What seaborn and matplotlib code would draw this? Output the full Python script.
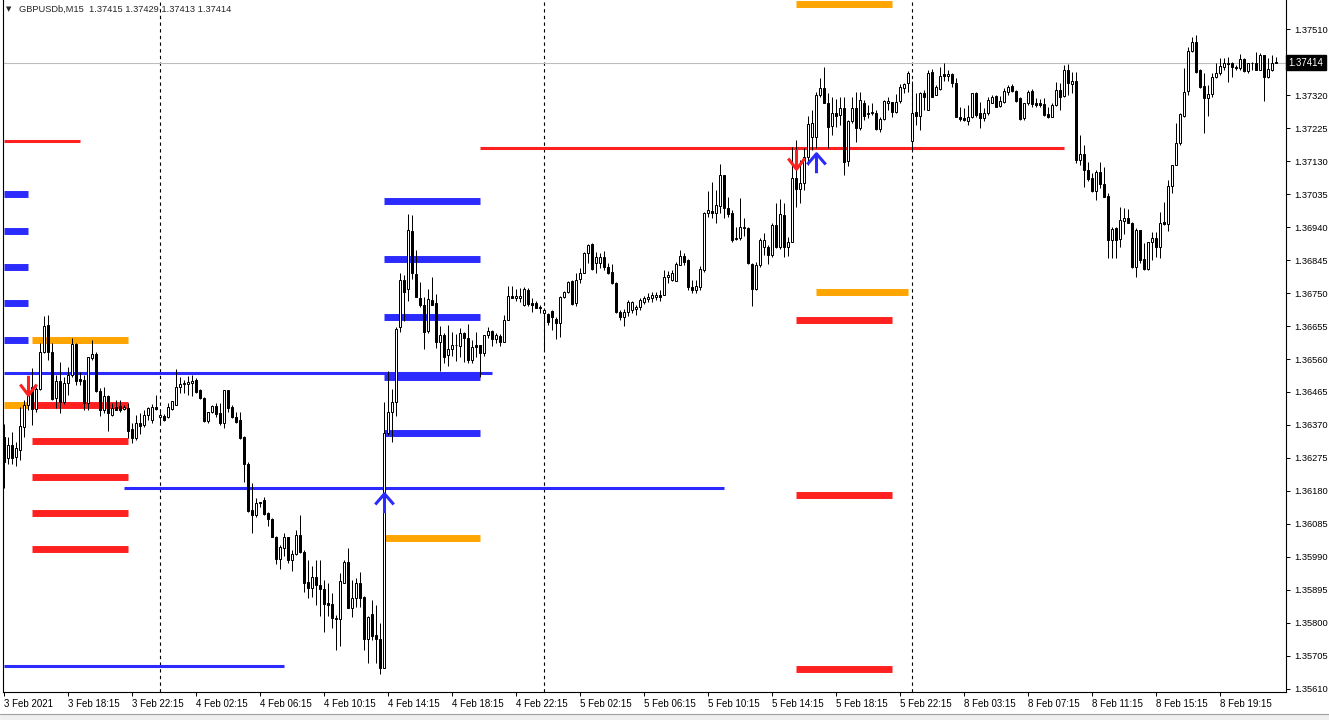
"""GBPUSDb M15 - candles com niveis do indicador (recriacao do grafico do MT4)"""
import numpy as np
import pandas as pd
import matplotlib
matplotlib.use("Agg")
import matplotlib.pyplot as plt
from matplotlib.path import Path
from matplotlib.patches import Rectangle
import seaborn as sns

# precos em pontos (0.00001) acima da base
BASE = 1.356

opens_pts = [
    735, 675, 712, 678, 698, 764, 827, 879, 816, 874,
    980, 1058, 980, 848, 897, 836, 891, 914, 1003, 902,
    900, 833, 963, 974, 868, 813, 853, 799, 822, 825,
    816, 819, 758, 732, 776, 770, 799, 784, 822, 793,
    796, 793, 816, 827, 879, 888, 888, 891, 900, 871,
    848, 781, 807, 825, 804, 776, 871, 822, 793, 784,
    735, 657, 525, 510, 545, 554, 516, 499, 447, 383,
    415, 447, 381, 398, 453, 404, 317, 300, 332, 308,
    297, 257, 254, 213, 210, 314, 375, 242, 271, 314,
    274, 153, 225, 164, 153, 69, 747, 807, 836, 1052,
    1188, 1162, 1329, 1205, 1136, 1116, 1041, 1130, 1121, 1009,
    1029, 971, 989, 1000, 997, 1035, 1021, 957, 1000, 1000,
    977, 1029, 1041, 1018, 1026, 1009, 1072, 1142, 1136, 1136,
    1116, 1159, 1121, 1121, 1110, 1093, 1090, 1098, 1075, 1064,
    1139, 1153, 1185, 1121, 1191, 1208, 1266, 1292, 1237, 1237,
    1254, 1225, 1211, 1179, 1096, 1081, 1096, 1101, 1104, 1110,
    1124, 1133, 1136, 1139, 1145, 1145, 1196, 1188, 1185, 1231,
    1257, 1245, 1168, 1159, 1168, 1217, 1381, 1387, 1381, 1401,
    1490, 1395, 1381, 1306, 1309, 1338, 1338, 1234, 1162, 1231,
    1283, 1283, 1260, 1346, 1283, 1375, 1283, 1297, 1482, 1450,
    1467, 1542, 1600, 1600, 1721, 1741, 1698, 1632, 1669, 1663,
    1684, 1531, 1646, 1684, 1626, 1698, 1666, 1669, 1669, 1623,
    1652, 1698, 1701, 1672, 1704, 1741, 1756, 1589, 1672, 1661,
    1727, 1678, 1787, 1721, 1738, 1782, 1776, 1782, 1756, 1658,
    1655, 1646, 1658, 1727, 1669, 1655, 1669, 1698, 1718, 1689,
    1701, 1730, 1747, 1733, 1712, 1655, 1698, 1733, 1698, 1698,
    1695, 1666, 1658, 1692, 1736, 1718, 1793, 1753, 1762, 1534,
    1551, 1505, 1482, 1444, 1499, 1465, 1430, 1303, 1338, 1306,
    1358, 1367, 1352, 1225, 1332, 1248, 1219, 1297, 1309, 1283,
    1355, 1349, 1459, 1519, 1583, 1661, 1733, 1848, 1874, 1793,
    1747, 1712, 1724, 1773, 1785, 1802, 1813, 1813, 1802, 1799,
    1825, 1790, 1814, 1813, 1793, 1836, 1773, 1793, 1815,
]

highs_pts = [
    773, 735, 750, 721, 822, 842, 905, 934, 879, 1006,
    1084, 1087, 1006, 914, 951, 908, 937, 1021, 1006, 923,
    914, 966, 1015, 980, 876, 879, 856, 833, 842, 842,
    827, 833, 776, 799, 804, 813, 822, 830, 856, 813,
    801, 833, 839, 931, 908, 900, 911, 914, 905, 874,
    850, 807, 827, 833, 833, 871, 871, 827, 807, 807,
    738, 663, 603, 559, 548, 562, 519, 502, 450, 424,
    458, 447, 409, 467, 510, 409, 381, 363, 381, 381,
    323, 314, 285, 222, 343, 381, 415, 323, 329, 346,
    277, 219, 265, 251, 199, 836, 925, 874, 1052, 1208,
    1202, 1378, 1375, 1274, 1182, 1139, 1162, 1196, 1147, 1055,
    1035, 1058, 1038, 1032, 1049, 1038, 1061, 1015, 1038, 1000,
    1029, 1052, 1044, 1035, 1032, 1087, 1170, 1170, 1162, 1165,
    1168, 1165, 1136, 1127, 1116, 1107, 1093, 1101, 1081, 1142,
    1156, 1185, 1188, 1208, 1222, 1268, 1292, 1294, 1268, 1266,
    1271, 1237, 1234, 1182, 1101, 1104, 1130, 1127, 1116, 1136,
    1142, 1150, 1153, 1153, 1159, 1217, 1214, 1217, 1240, 1274,
    1266, 1248, 1188, 1188, 1228, 1384, 1444, 1470, 1447, 1522,
    1490, 1427, 1390, 1341, 1424, 1367, 1341, 1237, 1240, 1309,
    1323, 1289, 1352, 1410, 1421, 1410, 1312, 1571, 1591, 1534,
    1568, 1661, 1678, 1730, 1770, 1802, 1727, 1715, 1710, 1715,
    1715, 1649, 1715, 1730, 1730, 1707, 1692, 1698, 1678, 1658,
    1707, 1715, 1701, 1724, 1753, 1756, 1790, 1762, 1727, 1730,
    1736, 1793, 1796, 1750, 1802, 1813, 1793, 1785, 1770, 1687,
    1684, 1692, 1727, 1730, 1701, 1684, 1715, 1721, 1721, 1718,
    1741, 1750, 1753, 1736, 1715, 1698, 1736, 1738, 1712, 1710,
    1712, 1687, 1698, 1759, 1756, 1808, 1810, 1787, 1787, 1606,
    1577, 1528, 1496, 1505, 1528, 1514, 1439, 1341, 1341, 1398,
    1395, 1392, 1355, 1338, 1332, 1294, 1297, 1326, 1326, 1384,
    1413, 1476, 1519, 1640, 1669, 1799, 1860, 1888, 1894, 1796,
    1785, 1750, 1785, 1813, 1828, 1828, 1831, 1816, 1808, 1839,
    1828, 1813, 1816, 1845, 1842, 1836, 1828, 1836, 1831,
]

lows_pts = [
    588, 657, 657, 652, 669, 735, 813, 770, 807, 871,
    977, 957, 842, 819, 804, 830, 856, 908, 885, 885,
    813, 813, 957, 865, 796, 804, 752, 796, 813, 807,
    813, 732, 718, 727, 744, 764, 784, 776, 813, 776,
    781, 790, 813, 827, 862, 862, 856, 853, 862, 845,
    778, 776, 804, 793, 770, 761, 807, 790, 776, 729,
    605, 519, 458, 505, 533, 510, 479, 447, 369, 355,
    392, 372, 349, 395, 401, 288, 271, 274, 251, 219,
    173, 219, 185, 121, 133, 314, 242, 216, 245, 245,
    121, 84, 150, 84, 52, 69, 741, 721, 796, 1038,
    1070, 1127, 1191, 1139, 1110, 989, 1035, 1116, 992, 925,
    948, 940, 969, 954, 966, 951, 948, 948, 966, 908,
    969, 1021, 997, 1006, 997, 1009, 1072, 1136, 1127, 1124,
    1113, 1113, 1096, 1107, 1093, 986, 1058, 1044, 1018, 1023,
    1136, 1150, 1116, 1113, 1179, 1208, 1237, 1217, 1208, 1222,
    1217, 1205, 1176, 1093, 1072, 1055, 1084, 1093, 1087, 1101,
    1119, 1124, 1124, 1130, 1127, 1145, 1179, 1185, 1185, 1231,
    1231, 1159, 1150, 1150, 1159, 1211, 1369, 1367, 1352, 1381,
    1367, 1369, 1297, 1303, 1303, 1315, 1234, 1113, 1159, 1225,
    1260, 1234, 1254, 1280, 1277, 1254, 1257, 1297, 1398, 1410,
    1447, 1519, 1563, 1568, 1715, 1698, 1568, 1606, 1629, 1635,
    1490, 1516, 1640, 1586, 1620, 1649, 1655, 1663, 1620, 1614,
    1649, 1678, 1658, 1669, 1698, 1727, 1730, 1563, 1635, 1620,
    1678, 1678, 1715, 1721, 1736, 1762, 1762, 1744, 1658, 1646,
    1646, 1635, 1655, 1658, 1626, 1646, 1663, 1698, 1687, 1687,
    1698, 1721, 1730, 1701, 1649, 1649, 1692, 1687, 1687, 1687,
    1661, 1655, 1658, 1689, 1678, 1715, 1721, 1727, 1525, 1519,
    1456, 1473, 1442, 1418, 1453, 1427, 1251, 1251, 1251, 1283,
    1320, 1352, 1222, 1196, 1237, 1217, 1217, 1245, 1254, 1251,
    1346, 1329, 1439, 1519, 1577, 1658, 1721, 1845, 1785, 1741,
    1612, 1661, 1715, 1770, 1779, 1793, 1759, 1773, 1793, 1793,
    1787, 1785, 1793, 1793, 1793, 1704, 1770, 1790, 1813,
]

closes_pts = [
    663, 712, 675, 703, 767, 827, 882, 816, 874, 980,
    1055, 980, 845, 897, 836, 891, 914, 1003, 897, 897,
    833, 966, 974, 868, 813, 853, 804, 819, 813, 813,
    822, 752, 732, 776, 767, 799, 819, 822, 816, 799,
    784, 822, 839, 879, 888, 891, 894, 897, 865, 848,
    781, 807, 825, 801, 776, 871, 819, 793, 778, 732,
    657, 522, 510, 545, 548, 513, 499, 447, 383, 418,
    447, 381, 398, 453, 404, 314, 300, 332, 308, 297,
    254, 251, 213, 210, 320, 375, 242, 271, 314, 271,
    153, 216, 161, 153, 69, 747, 807, 836, 1047, 1188,
    1153, 1332, 1208, 1139, 1116, 1038, 1133, 1116, 1009, 1029,
    966, 989, 1000, 1000, 1035, 1021, 957, 995, 995, 977,
    1029, 1041, 1018, 1029, 1009, 1072, 1142, 1136, 1142, 1142,
    1162, 1119, 1116, 1107, 1107, 1101, 1067, 1081, 1064, 1139,
    1153, 1182, 1119, 1188, 1208, 1266, 1289, 1219, 1254, 1254,
    1225, 1208, 1179, 1096, 1081, 1096, 1124, 1124, 1110, 1130,
    1136, 1139, 1145, 1145, 1139, 1196, 1202, 1208, 1234, 1257,
    1240, 1168, 1159, 1170, 1219, 1381, 1390, 1381, 1404, 1490,
    1395, 1378, 1303, 1309, 1341, 1341, 1237, 1162, 1231, 1303,
    1303, 1260, 1346, 1283, 1378, 1283, 1297, 1482, 1450, 1467,
    1542, 1637, 1640, 1721, 1741, 1698, 1629, 1669, 1661, 1684,
    1528, 1646, 1684, 1626, 1707, 1661, 1669, 1672, 1623, 1652,
    1704, 1704, 1672, 1701, 1744, 1753, 1785, 1669, 1661, 1727,
    1715, 1785, 1715, 1744, 1776, 1776, 1782, 1756, 1658, 1652,
    1649, 1658, 1727, 1663, 1655, 1669, 1707, 1715, 1687, 1704,
    1733, 1744, 1733, 1704, 1652, 1698, 1730, 1695, 1692, 1692,
    1663, 1658, 1692, 1736, 1715, 1793, 1756, 1762, 1534, 1551,
    1505, 1479, 1444, 1499, 1465, 1427, 1303, 1335, 1303, 1361,
    1367, 1352, 1225, 1332, 1245, 1219, 1297, 1309, 1283, 1352,
    1349, 1459, 1519, 1583, 1666, 1730, 1848, 1874, 1787, 1744,
    1712, 1724, 1773, 1785, 1805, 1813, 1810, 1802, 1799, 1825,
    1790, 1813, 1813, 1793, 1836, 1773, 1796, 1813, 1814,
]

# niveis do indicador: (preco em pontos, barra inicial, barra final)
red_thin_levels = [(1589, 0, 19), (1568, 119, 265)]
blue_thin_levels = [(920, 0, 122), (588, 30, 180), (75, 0, 70)]
blue_thick_levels = [(1436, 0, 6), (1329, 0, 6), (1225, 0, 6), (1121, 0, 6), (1015, 0, 6),
                     (1416, 95, 119), (1248, 95, 119), (1081, 95, 119), (908, 95, 119), (747, 95, 119)]
red_thick_levels = [(827, 7, 31), (724, 7, 31), (620, 7, 31), (516, 7, 31), (412, 7, 31),
                    (1072, 198, 222), (568, 198, 222), (66, 198, 222)]
orange_levels = [(827, 0, 6), (1015, 7, 31), (444, 95, 119), (1984, 198, 222), (1153, 203, 226)]

# setas: (barra, preco em pontos)
up_arrows = [(95, 545), (203, 1525)]
down_arrows = [(6, 885), (198, 1537)]

separator_bars = [39, 135, 227]
x_labels = ["3 Feb 2021", "3 Feb 18:15", "3 Feb 22:15", "4 Feb 02:15", "4 Feb 06:15",
            "4 Feb 10:15", "4 Feb 14:15", "4 Feb 18:15", "4 Feb 22:15", "5 Feb 02:15",
            "5 Feb 06:15", "5 Feb 10:15", "5 Feb 14:15", "5 Feb 18:15", "5 Feb 22:15",
            "8 Feb 03:15", "8 Feb 07:15", "8 Feb 11:15", "8 Feb 15:15", "8 Feb 19:15"]
y_ticks = [1.37510, 1.37320, 1.37225, 1.37130, 1.37035, 1.36940, 1.36845, 1.36750,
           1.36655, 1.36560, 1.36465, 1.36370, 1.36275, 1.36180, 1.36085, 1.35990,
           1.35895, 1.35800, 1.35705, 1.35610]
current_price = 1.37414
title_text = "GBPUSDb,M15  1.37415 1.37429 1.37413 1.37414"

BLUE = "#2B2BFF"
RED = "#FF2020"
ORANGE = "#FFA500"


def to_price(pts):
    return BASE + np.asarray(pts) / 1e5


sns.set_theme(style="white")
plt.rcParams['font.family'] = ['Liberation Sans', 'DejaVu Sans']

df = pd.DataFrame({'open': to_price(opens_pts), 'high': to_price(highs_pts),
                   'low': to_price(lows_pts), 'close': to_price(closes_pts)})
assert len(opens_pts) == len(highs_pts) == len(lows_pts) == len(closes_pts)
bull = df['close'] >= df['open']

W, H = 1329, 720
fig = plt.figure(figsize=(W / 100, H / 100), dpi=100)
fig.patch.set_facecolor('white')
ax = fig.add_axes([3 / W, 28 / H, 1283 / W, 692 / H])
ax.set_facecolor('white')

# separadores de dia e preco atual
for b in separator_bars:
    ax.axvline(b, color='black', lw=0.8, ls=(0, (3, 3)), zorder=1)
ax.axhline(current_price, color='#BDBDBD', lw=0.8, zorder=1)

# niveis
def draw_levels(levels, color, lw):
    for p, b0, b1 in levels:
        pr = to_price(p)
        ax.plot([b0, b1], [pr, pr], color=color, lw=lw, solid_capstyle='butt', zorder=2)

draw_levels(red_thin_levels, RED, 2.2)
draw_levels(blue_thin_levels, BLUE, 2.2)
draw_levels(blue_thick_levels, BLUE, 5)
draw_levels(red_thick_levels, RED, 5)
draw_levels(orange_levels, ORANGE, 5)

# candles
x = df.index.values
ax.vlines(x, df['low'], df['high'], color='black', lw=0.72, zorder=3)
ax.bar(x[bull], (df['close'] - df['open'])[bull], bottom=df['open'][bull], width=0.5,
       color='white', edgecolor='black', linewidth=0.72, zorder=4)
ax.bar(x[~bull], (df['open'] - df['close'])[~bull], bottom=df['close'][~bull], width=0.5,
       color='black', edgecolor='black', linewidth=0.72, zorder=4)

# setas
up_marker = Path([(0, -1), (0, 1), (-0.95, -0.1), (0, 1), (0.95, -0.1)],
                 [Path.MOVETO, Path.LINETO, Path.MOVETO, Path.LINETO, Path.LINETO])
down_marker = Path([(0, 1), (0, -1), (-0.85, 0.1), (0, -1), (0.85, 0.1)],
                   [Path.MOVETO, Path.LINETO, Path.MOVETO, Path.LINETO, Path.LINETO])
for b, p in up_arrows:
    ax.plot([b], [to_price(p)], marker=up_marker, ms=14, mfc='none', mec=BLUE, mew=2.2,
            ls='none', zorder=6)
for b, p in down_arrows:
    ax.plot([b], [to_price(p)], marker=down_marker, ms=14, mfc='none', mec=RED, mew=2.2,
            ls='none', zorder=6)

ax.set_xlim(-0.25, 320.5)
ax.set_ylim(BASE, BASE + 1995 / 1e5)

ax.set_xticks(np.arange(len(x_labels)) * 16)
ax.set_xticklabels(x_labels, ha='left', fontsize=7)
ax.yaxis.tick_right()
ax.set_yticks(y_ticks)
ax.set_yticklabels([f"{v:.5f}" for v in y_ticks], fontsize=6.7)
ax.tick_params(axis='x', direction='out', length=3, width=0.7, pad=2, colors='black', bottom=True)
ax.tick_params(axis='y', direction='out', length=3, width=0.7, pad=3, colors='black', right=True, left=False)
for side in ['left', 'bottom', 'right']:
    ax.spines[side].set_visible(True)
    ax.spines[side].set_color('black')
    ax.spines[side].set_linewidth(0.8)
ax.spines['top'].set_visible(False)
ax.grid(False)

# rotulo do preco atual
ax.annotate(f"{current_price:.5f}", xy=(1, current_price), xycoords=('axes fraction', 'data'),
            xytext=(2, 0), textcoords='offset points', ha='left', va='center', color='white',
            fontsize=6.9, bbox=dict(boxstyle='square,pad=0.25', fc='black', ec='black'),
            annotation_clip=False)

# titulo
fig.text(6 / W, 1 - 9 / H, "\u25BC", fontsize=5, va='center', family='DejaVu Sans')
fig.text(19 / W, 1 - 9 / H, title_text, fontsize=6.7, va='center')

# barra de abas embaixo
fig.patches.append(Rectangle((0, 0), 1, 6 / H, transform=fig.transFigure,
                             facecolor='#EFEFEF', edgecolor='none'))
fig.lines.append(plt.Line2D([0, 1], [6.5 / H, 6.5 / H], transform=fig.transFigure,
                            color='#A0A0A0', lw=0.8))

fig.savefig('out.png', dpi=100)
